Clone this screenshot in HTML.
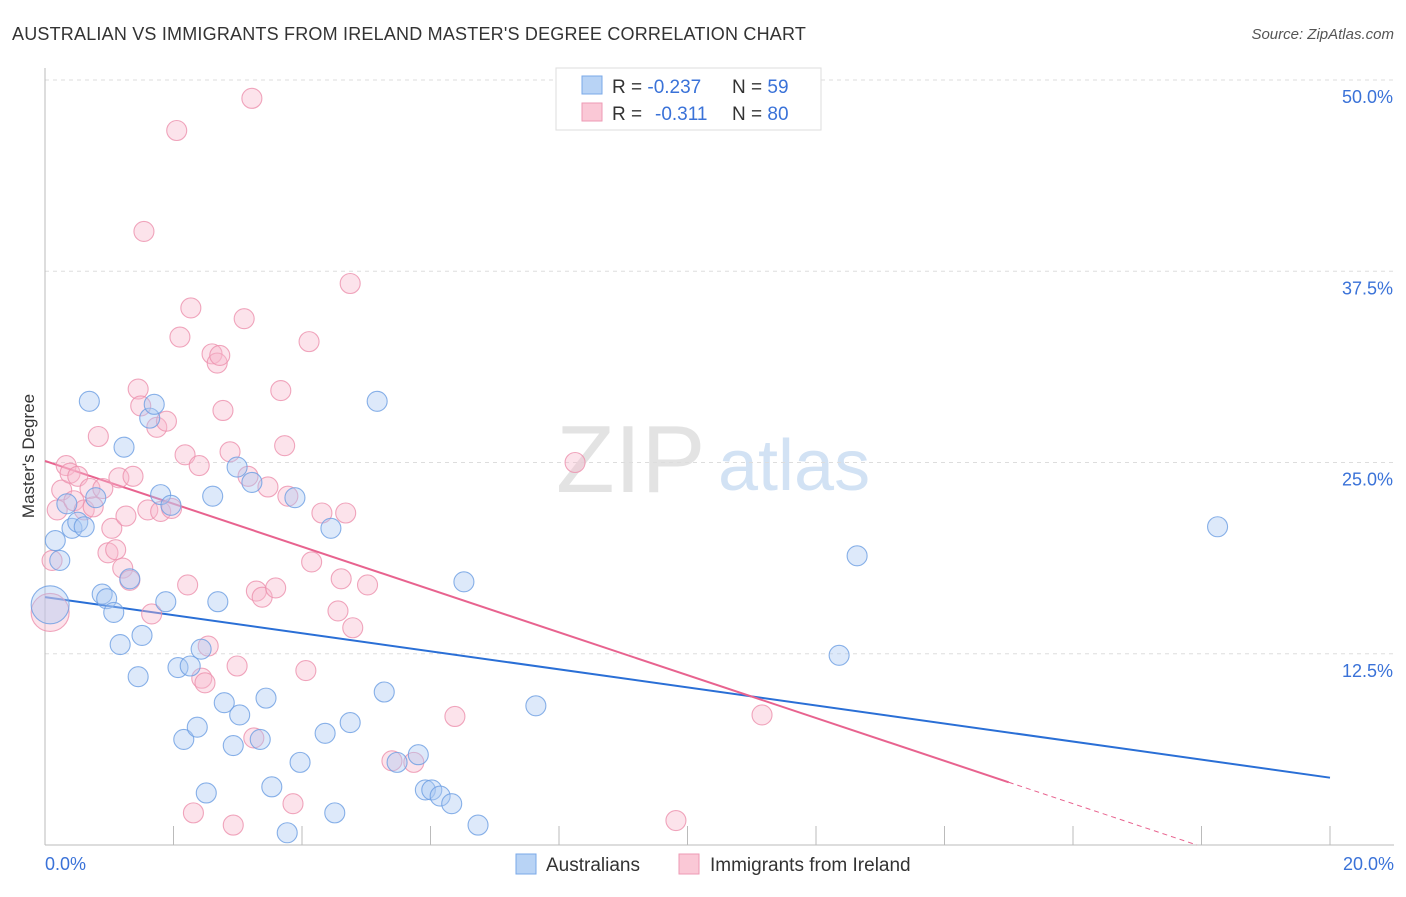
<!DOCTYPE html>
<html><head><meta charset="utf-8"><style>
body{margin:0;background:#fff;font-family:"Liberation Sans",sans-serif}
svg text{font-family:"Liberation Sans",sans-serif}
</style></head><body>
<svg id="chart" width="1406" height="892" viewBox="0 0 1406 892">
<text x="12" y="40" font-size="18" fill="#333" letter-spacing="0.2">AUSTRALIAN VS IMMIGRANTS FROM IRELAND MASTER'S DEGREE CORRELATION CHART</text>
<text x="1394" y="39" font-size="15" fill="#555" font-style="italic" text-anchor="end">Source: ZipAtlas.com</text>
<text x="34" y="456" font-size="17" fill="#333" text-anchor="middle" transform="rotate(-90 34 456)">Master's Degree</text>
<text x="556" y="492" font-size="96" fill="#ddd" font-family="Liberation Serif" opacity="0.8">ZIP</text>
<text x="718" y="490" font-size="72" fill="#c8dbf2" opacity="0.8">atlas</text>
<g id="grid"></g>
<g id="lines"></g>
<g id="pts"></g>
<g>
<rect x="556" y="68" width="265" height="62" fill="#fff" stroke="#ddd"/>
<rect x="582" y="76" width="20" height="18" fill="#b8d3f5" stroke="#7aa8e8"/>
<rect x="582" y="103" width="20" height="18" fill="#fac8d6" stroke="#ee9ab4"/>
<text x="612" y="93" font-size="19" fill="#333">R = <tspan fill="#3a72d8">-0.237</tspan><tspan x="732">N = </tspan><tspan fill="#3a72d8">59</tspan></text>
<text x="612" y="120" font-size="19" fill="#333">R = <tspan x="655" fill="#3a72d8">-0.311</tspan><tspan x="732">N = </tspan><tspan fill="#3a72d8">80</tspan></text>
</g>
<g>
<rect x="516" y="854" width="20" height="20" fill="#b8d3f5" stroke="#7aa8e8"/>
<text x="546" y="871" font-size="19" fill="#333">Australians</text>
<rect x="679" y="854" width="20" height="20" fill="#fac8d6" stroke="#ee9ab4"/>
<text x="710" y="871" font-size="19" fill="#333">Immigrants from Ireland</text>
</g>
</svg>
<script>
const xTicks=[0,2,4,6,8,10,12,14,16,18,20];
const yTicks=[12.5,25,37.5,50];
const yTickLabels=["12.5%","25.0%","37.5%","50.0%"];
const xEndLabels=["0.0%","20.0%"];
const blueX=[0.08,0.16,0.23,0.34,0.42,0.51,0.61,0.69,0.79,0.89,0.96,1.07,1.17,1.23,1.32,1.45,1.51,1.63,1.70,1.80,1.88,1.96,2.07,2.16,2.26,2.37,2.43,2.51,2.61,2.69,2.79,2.93,2.99,3.03,3.22,3.35,3.44,3.53,3.77,3.89,3.97,4.36,4.45,4.51,4.75,5.17,5.28,5.48,5.81,5.92,6.02,6.15,6.33,6.52,6.74,7.64,12.36,12.64,18.25];
const blueY=[15.7,19.9,18.6,22.3,20.7,21.1,20.8,29.0,22.7,16.4,16.1,15.2,13.1,26.0,17.4,11.0,13.7,27.9,28.8,22.9,15.9,22.2,11.6,6.9,11.7,7.7,12.8,3.4,22.8,15.9,9.3,6.5,24.7,8.5,23.7,6.9,9.6,3.8,0.8,22.7,5.4,7.3,20.7,2.1,8.0,29.0,10.0,5.4,5.9,3.6,3.6,3.2,2.7,17.2,1.3,9.1,12.4,18.9,20.8];
const pinkX=[0.08,0.11,0.19,0.26,0.33,0.39,0.45,0.51,0.61,0.70,0.75,0.83,0.90,0.98,1.04,1.10,1.15,1.21,1.26,1.32,1.37,1.45,1.49,1.54,1.60,1.66,1.74,1.80,1.89,1.97,2.05,2.10,2.18,2.22,2.27,2.31,2.40,2.44,2.49,2.54,2.60,2.68,2.72,2.77,2.88,2.93,2.99,3.10,3.16,3.22,3.25,3.29,3.38,3.47,3.59,3.67,3.73,3.78,3.86,4.06,4.11,4.15,4.31,4.56,4.61,4.68,4.75,4.79,5.02,5.40,5.74,6.38,8.25,9.82,11.16];
const pinkY=[15.2,18.6,21.9,23.2,24.8,24.3,22.5,24.1,21.9,23.3,22.1,26.7,23.3,19.1,20.7,19.3,24.0,18.1,21.5,17.3,24.1,29.8,28.7,40.1,21.9,15.1,27.3,21.8,27.7,22.0,46.7,33.2,25.5,17.0,35.1,2.1,24.8,10.9,10.6,13.0,32.1,31.5,32.0,28.4,25.7,1.3,11.7,34.4,24.1,48.8,7.0,16.6,16.2,23.4,16.8,29.7,26.1,22.8,2.7,11.4,32.9,18.5,21.7,15.3,17.4,21.7,36.7,14.2,17.0,5.5,5.4,8.4,25.0,1.6,8.5];
const blueTrend=[16.2,4.4];
const pinkTrend=[25.1,-2.9];
const pinkSolidEnd=15.0;
const X0=45,X1=1330,YB=845,YT=80;
const sx=v=>X0+(v/20)*(X1-X0);
const sy=v=>YB-(v/50)*(YB-YT);
const NS="http://www.w3.org/2000/svg";
function mk(tag,attrs,parent){const e=document.createElementNS(NS,tag);for(const k in attrs)e.setAttribute(k,attrs[k]);parent.appendChild(e);return e;}
const grid=document.getElementById('grid');
yTicks.forEach((t,i)=>{
 const l=mk('line',{x1:X0,x2:1394,y1:sy(t),y2:sy(t),stroke:'#ddd','stroke-dasharray':'4 4'},grid);
 
 
 const tx=mk('text',{x:1393,y:sy(t)+23,'font-size':18,fill:'#3a72d8','text-anchor':'end'},grid);
 tx.textContent=yTickLabels[i];
 
 
});
const ax=mk('line',{x1:X0,x2:1394,y1:YB,y2:YB,stroke:'#bbb'},grid);


const ay=mk('line',{x1:X0,x2:X0,y1:68,y2:YB,stroke:'#bbb'},grid);


xTicks.forEach(t=>{
 const l=mk('line',{x1:sx(t),x2:sx(t),y1:YB-19,y2:YB,stroke:'#bbb'},grid);
 
 
});
[[0,'start',45],[20,'end',1394]].forEach((d,i)=>{
 const tx=mk('text',{x:d[2],y:870,'font-size':18,fill:'#3a72d8','text-anchor':d[1]},grid);
 tx.textContent=xEndLabels[i];
 
 
});
const pts=document.getElementById('pts');
function drawPts(xs,ys,fill,stroke,name){
 xs.forEach((x,i)=>{
  const big=i===0?19:10;
  const c=mk('circle',{cx:sx(x),cy:sy(ys[i]),r:big,fill:fill,'fill-opacity':0.4,stroke:stroke,'stroke-opacity':0.8,'stroke-width':1.1},pts);
  
  
 });
}
drawPts(pinkX,pinkY,'#f8b8cc','#ec90ad','point-ireland');
drawPts(blueX,blueY,'#a9c8f2','#6b9de2','point-australians');
const lines=document.getElementById('lines');
const bl=mk('line',{x1:sx(0),y1:sy(blueTrend[0]),x2:sx(20),y2:sy(blueTrend[1]),stroke:'#2a6fd6','stroke-width':2},lines);


const pv=x=>pinkTrend[0]+(pinkTrend[1]-pinkTrend[0])*x/20;
const pl=mk('line',{x1:sx(0),y1:sy(pv(0)),x2:sx(pinkSolidEnd),y2:sy(pv(pinkSolidEnd)),stroke:'#e8638f','stroke-width':2},lines);


const xz=-pinkTrend[0]*20/(pinkTrend[1]-pinkTrend[0]);
const pd=mk('line',{x1:sx(pinkSolidEnd),y1:sy(pv(pinkSolidEnd)),x2:sx(xz),y2:sy(0),stroke:'#e8638f','stroke-width':1,'stroke-dasharray':'5 4'},lines);


</script>
</body></html>
